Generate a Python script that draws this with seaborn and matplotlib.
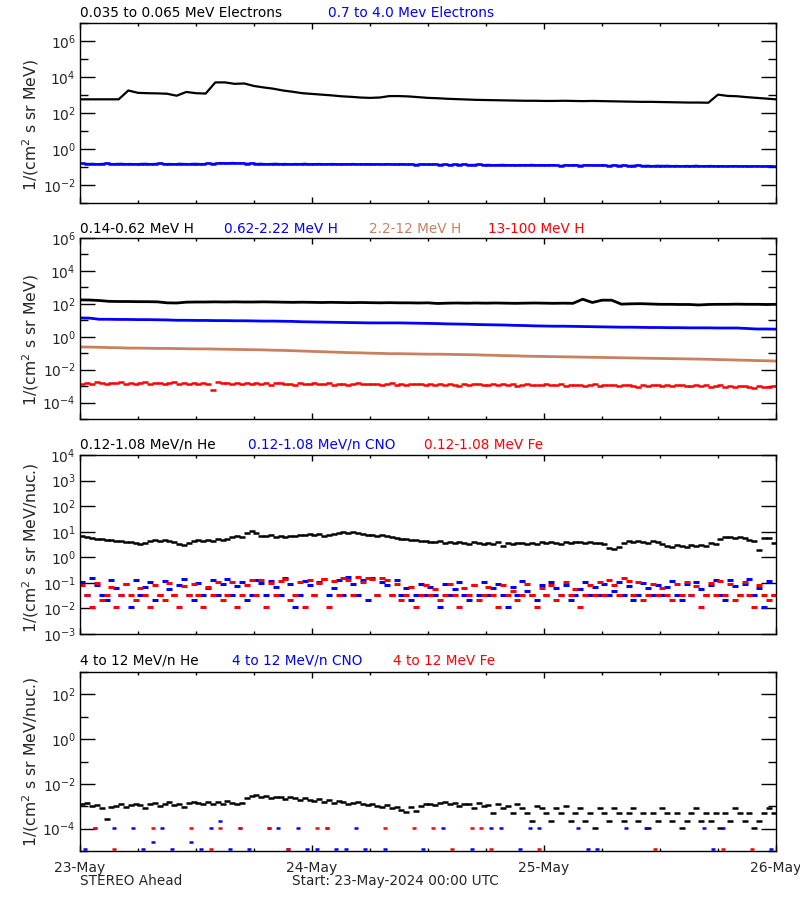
import numpy as np
import pandas as pd
import matplotlib
matplotlib.use("Agg")
import matplotlib.pyplot as plt
import matplotlib.dates as mdates
from matplotlib.ticker import FixedLocator, FuncFormatter, NullFormatter
import seaborn as sns

sns.set_style("ticks")
plt.rcParams['font.family'] = ['DejaVu Sans']
plt.rcParams['mathtext.default'] = 'regular'

# ---------------- data (log10 of flux) ----------------
START = "2024-05-23 00:00"

# Panel 1 : electrons (hourly, 00:00 .. 72:00)
elec_low_log10 = [
    2.76, 2.76, 2.76, 2.76, 2.76, 3.25, 3.12, 3.10, 3.09, 3.07, 2.96, 3.17,
    3.10, 3.08, 3.70, 3.70, 3.62, 3.64, 3.50, 3.42, 3.35, 3.25, 3.18, 3.10,
    3.06, 3.02, 2.98, 2.93, 2.90, 2.86, 2.84, 2.86, 2.94, 2.94, 2.92, 2.88,
    2.84, 2.82, 2.79, 2.77, 2.75, 2.73, 2.72, 2.71, 2.70, 2.69, 2.68, 2.68,
    2.67, 2.67, 2.68, 2.67, 2.66, 2.67, 2.66, 2.65, 2.64, 2.63, 2.62, 2.62,
    2.61, 2.60, 2.59, 2.58, 2.58, 2.57, 3.02, 2.95, 2.93, 2.88, 2.84, 2.80,
    2.76]
# Panel 1 : high-energy electrons (half-hourly)
elec_high_log10 = [
    -0.80, -0.82, -0.81, -0.83, -0.82, -0.80, -0.83, -0.82, -0.81, -0.83, -0.82, -0.84,
    -0.82, -0.81, -0.83, -0.82, -0.80, -0.83, -0.82, -0.84, -0.81, -0.82, -0.83, -0.81,
    -0.82, -0.83, -0.80, -0.82, -0.79, -0.77, -0.80, -0.76, -0.79, -0.78, -0.81, -0.80,
    -0.82, -0.81, -0.83, -0.82, -0.81, -0.83, -0.82, -0.84, -0.82, -0.83, -0.81, -0.84,
    -0.83, -0.82, -0.84, -0.83, -0.82, -0.85, -0.83, -0.84, -0.82, -0.85, -0.84, -0.83,
    -0.85, -0.84, -0.86, -0.83, -0.85, -0.86, -0.84, -0.86, -0.85, -0.87, -0.85, -0.86,
    -0.86, -0.85, -0.87, -0.86, -0.88, -0.86, -0.87, -0.85, -0.88, -0.87, -0.86, -0.88,
    -0.87, -0.89, -0.88, -0.87, -0.89, -0.88, -0.90, -0.88, -0.89, -0.87, -0.90, -0.89,
    -0.89, -0.88, -0.90, -0.93, -0.89, -0.91, -0.88, -0.92, -0.90, -0.89, -0.91, -0.90,
    -0.91, -0.93, -0.90, -0.92, -0.91, -0.93, -0.92, -0.90, -0.93, -0.92, -0.94, -0.92,
    -0.93, -0.92, -0.94, -0.93, -0.95, -0.93, -0.94, -0.92, -0.95, -0.94, -0.93, -0.95,
    -0.94, -0.96, -0.95, -0.94, -0.96, -0.95, -0.97, -0.95, -0.96, -0.97, -0.95, -0.96]

# Panel 2 : protons (hourly)
h_014_062_log10 = [
    2.24, 2.23, 2.20, 2.15, 2.14, 2.14, 2.13, 2.13, 2.12, 2.06, 2.05, 2.10,
    2.11, 2.11, 2.12, 2.11, 2.12, 2.11, 2.11, 2.12, 2.11, 2.10, 2.09, 2.10,
    2.09, 2.08, 2.09, 2.08, 2.07, 2.08, 2.07, 2.06, 2.07, 2.06, 2.06, 2.05,
    2.06, 2.02, 2.04, 2.05, 2.04, 2.05, 2.04, 2.05, 2.04, 2.03, 2.04, 2.05,
    2.04, 2.03, 2.04, 2.03, 2.28, 2.08, 2.22, 2.22, 1.98, 2.00, 2.01, 1.99,
    1.97, 1.97, 1.96, 1.96, 1.93, 1.96, 1.97, 1.97, 1.98, 1.97, 1.97, 1.96,
    1.97]
h_062_222_log10 = [
    1.14, 1.13, 1.06, 1.06, 1.05, 1.05, 1.04, 1.04, 1.03, 1.02, 1.00, 1.00,
    0.99, 0.99, 0.98, 0.98, 0.97, 0.97, 0.96, 0.95, 0.95, 0.94, 0.93, 0.91,
    0.90, 0.89, 0.88, 0.87, 0.86, 0.85, 0.84, 0.84, 0.84, 0.84, 0.83, 0.82,
    0.81, 0.80, 0.78, 0.77, 0.76, 0.74, 0.73, 0.72, 0.71, 0.69, 0.68, 0.66,
    0.65, 0.64, 0.64, 0.63, 0.62, 0.61, 0.60, 0.59, 0.58, 0.58, 0.57, 0.56,
    0.56, 0.55, 0.55, 0.54, 0.54, 0.54, 0.53, 0.53, 0.53, 0.50, 0.47, 0.47,
    0.46]
h_22_12_log10 = [
    -0.62, -0.63, -0.64, -0.66, -0.67, -0.69, -0.69, -0.70, -0.71, -0.71, -0.72, -0.73,
    -0.74, -0.74, -0.75, -0.76, -0.77, -0.78, -0.79, -0.80, -0.82, -0.83, -0.85, -0.87,
    -0.89, -0.91, -0.93, -0.95, -0.97, -0.98, -1.00, -1.01, -1.03, -1.03, -1.04, -1.05,
    -1.06, -1.06, -1.07, -1.08, -1.09, -1.10, -1.12, -1.13, -1.15, -1.16, -1.18, -1.19,
    -1.20, -1.21, -1.22, -1.23, -1.24, -1.25, -1.26, -1.27, -1.28, -1.29, -1.30, -1.31,
    -1.32, -1.33, -1.34, -1.35, -1.36, -1.37, -1.39, -1.40, -1.42, -1.43, -1.45, -1.46,
    -1.48]
# half-hourly
h_13_100_log10 = [
    -2.90, -2.80, -2.85, -2.78, -2.83, -2.88, -2.79, -2.84, -2.76, -2.86, -2.81, -2.89,
    -2.83, -2.77, -2.87, -2.82, -2.79, -2.90, -2.84, -2.78, -2.86, -2.81, -2.88, -2.80,
    -2.85, -2.79, -2.89, -3.25, -2.76, -2.84, -2.82, -2.90, -2.80, -2.86, -2.83, -2.88,
    -2.81, -2.87, -2.84, -2.92, -2.83, -2.79, -2.88, -2.85, -2.91, -2.82, -2.86, -2.89,
    -2.84, -2.90, -2.86, -2.81, -2.93, -2.87, -2.85, -2.92, -2.88, -2.83, -2.90, -2.86,
    -2.89, -2.85, -2.94, -2.88, -2.84, -2.91, -2.87, -2.95, -2.86, -2.90, -2.88, -2.93,
    -2.87, -2.92, -2.89, -2.96, -2.86, -2.91, -3.02, -2.88, -2.93, -2.90, -2.87, -2.95,
    -2.91, -2.88, -2.96, -2.90, -2.93, -2.89, -2.97, -2.92, -2.88, -2.95, -2.91, -2.94,
    -2.90, -2.96, -2.92, -2.89, -3.00, -2.93, -2.95, -2.91, -2.97, -2.94, -2.90, -2.98,
    -2.93, -2.96, -2.92, -2.99, -2.94, -2.91, -2.97, -3.05, -2.93, -2.98, -2.95, -2.92,
    -2.98, -2.94, -3.00, -2.96, -2.93, -3.01, -2.97, -2.95, -3.02, -2.96, -3.06, -2.99,
    -2.96, -3.03, -2.98, -3.08, -3.00, -2.97, -3.05, -3.10, -3.01, -3.04, -3.08, -3.02]

# Panel 3 : low-energy ions (half-hourly)
he_low_log10 = [
    0.82, 0.78, 0.74, 0.70, 0.72, 0.66, 0.68, 0.62, 0.64, 0.58, 0.60, 0.55,
    0.50, 0.56, 0.62, 0.66, 0.63, 0.68, 0.64, 0.60, 0.52, 0.48, 0.55, 0.62,
    0.66, 0.62, 0.68, 0.64, 0.70, 0.67, 0.72, 0.78, 0.82, 0.80, 0.96, 1.02,
    0.95, 0.84, 0.82, 0.86, 0.80, 0.83, 0.79, 0.85, 0.82, 0.88, 0.86, 0.90,
    0.87, 0.90, 0.85, 0.88, 0.92, 0.95, 0.97, 0.94, 0.99, 0.96, 0.92, 0.88,
    0.86, 0.84, 0.88, 0.83, 0.80, 0.76, 0.72, 0.70, 0.66, 0.68, 0.62, 0.64,
    0.60, 0.58, 0.62, 0.56, 0.59, 0.55, 0.60, 0.57, 0.53, 0.58, 0.55, 0.50,
    0.56, 0.53, 0.58, 0.46, 0.55, 0.52, 0.57, 0.54, 0.50, 0.56, 0.53, 0.58,
    0.55, 0.60, 0.57, 0.53, 0.59, 0.56, 0.61, 0.58, 0.54, 0.60, 0.57, 0.56,
    0.50, 0.38, 0.34, 0.40, 0.56, 0.62, 0.58, 0.64, 0.60, 0.56, 0.62, 0.58,
    0.52, 0.46, 0.42, 0.48, 0.44, 0.40, 0.47, 0.43, 0.49, 0.45, 0.55, 0.52,
    0.72, 0.78, 0.80, 0.76, 0.80, 0.74, 0.66, 0.62, 0.30, 0.76, 0.74, 0.56]
cno_low_log10 = [
    -0.95, -1.46, -0.82, -1.10, -1.46, -1.66, -0.90, -1.20, -1.46, -1.05, -1.96, -0.88,
    -1.46, -1.15, -0.98, -1.66, -1.46, -0.92, -1.25, -1.46, -1.08, -0.85, -1.46, -1.66,
    -1.00, -1.46, -1.20, -0.90, -1.46, -1.05, -0.86, -1.46, -1.12, -0.95, -1.66, -1.46,
    -0.88, -1.02, -1.46, -0.93, -1.15, -1.46, -0.80, -1.05, -1.96, -1.46, -0.92, -1.10,
    -1.46, -0.98, -0.85, -1.46, -1.20, -0.90, -1.46, -0.78, -1.05, -1.46, -0.88, -1.66,
    -0.82, -1.46, -0.95, -1.10, -1.46, -0.90, -1.46, -1.20, -1.66, -1.46, -1.05, -1.46,
    -1.15, -1.46, -1.96, -1.05, -1.46, -1.25, -0.98, -1.46, -1.66, -1.10, -1.46, -0.95,
    -1.46, -1.20, -1.05, -1.46, -1.96, -1.15, -1.46, -0.92, -1.30, -1.46, -1.66, -1.08,
    -1.46, -0.98, -1.20, -1.46, -1.10, -1.66, -1.46, -1.25, -0.95, -1.46, -1.15, -1.46,
    -1.05, -1.46, -1.30, -0.95, -1.46, -1.12, -1.66, -1.46, -1.00, -1.20, -1.46, -1.08,
    -1.46, -1.18, -0.92, -1.46, -1.66, -1.05, -1.46, -0.96, -1.25, -1.46, -1.10, -0.88,
    -1.46, -1.66, -0.90, -1.12, -1.46, -1.05, -0.85, -1.46, -1.20, -1.96, -0.92, -1.46]
fe_low_log10 = [
    -1.10, -1.46, -1.96, -1.00, -1.66, -1.46, -1.15, -1.96, -1.46, -1.05, -1.46, -1.66,
    -1.20, -1.46, -1.96, -1.10, -1.46, -1.66, -1.00, -1.46, -1.96, -1.12, -1.46, -1.05,
    -1.46, -1.96, -1.15, -1.46, -0.98, -1.66, -1.46, -0.95, -1.96, -1.46, -1.08, -0.90,
    -1.46, -0.88, -1.96, -1.00, -1.46, -0.92, -0.85, -1.66, -1.46, -0.95, -1.96, -0.88,
    -1.46, -1.02, -0.85, -1.96, -0.92, -1.46, -0.80, -0.88, -1.46, -0.78, -0.95, -0.82,
    -0.86, -1.46, -0.80, -0.90, -1.46, -1.05, -1.66, -1.46, -1.15, -1.96, -1.46, -1.10,
    -1.46, -1.25, -1.66, -1.46, -1.05, -1.46, -1.96, -1.20, -1.46, -1.10, -1.66, -1.46,
    -1.15, -1.46, -1.96, -1.08, -1.46, -1.30, -1.66, -1.46, -1.05, -1.46, -1.96, -1.20,
    -1.46, -1.10, -1.66, -1.46, -0.95, -1.46, -1.25, -1.96, -1.46, -1.10, -1.46, -0.98,
    -1.46, -0.88, -1.10, -1.46, -0.80, -0.92, -1.46, -0.95, -1.66, -1.46, -1.05, -1.46,
    -1.20, -1.46, -1.66, -1.05, -1.46, -0.95, -1.46, -1.12, -1.96, -1.46, -1.00, -1.46,
    -0.92, -1.46, -1.05, -1.66, -1.46, -0.98, -1.46, -1.96, -1.10, -1.46, -1.66, -1.46]

# Panel 4 : high-energy ions
he_high_log10 = [
    -2.92, -2.85, -3.00, -2.95, -3.10, -3.55, -3.05, -2.98, -2.90, -3.02, -2.95, -2.88,
    -2.95, -3.10, -2.90, -2.85, -3.00, -2.92, -2.82, -2.96, -2.88, -3.05, -2.86, -2.80,
    -2.85, -2.92, -2.80, -2.88, -2.83, -2.90, -2.78, -2.86, -2.90, -2.84, -2.62, -2.55,
    -2.50, -2.58, -2.55, -2.62, -2.57, -2.60, -2.66, -2.58, -2.64, -2.70, -2.65, -2.72,
    -2.75, -2.68, -2.80, -2.74, -2.85, -2.78, -2.82, -2.90, -2.84, -2.80, -2.88, -2.95,
    -2.92, -2.98, -3.05, -2.95, -3.10, -3.02, -3.15, -3.25, -3.05, -3.20, -3.00, -2.92,
    -2.88, -2.95, -2.86, -2.82, -2.90, -2.85, -3.01, -2.88, -2.92, -3.10, -2.86, -3.01,
    -2.95, -3.31, -2.90, -3.10, -3.01, -3.31, -2.88, -3.10, -3.31, -3.68, -3.01, -3.10,
    -3.31, -3.68, -3.10, -3.31, -3.01, -3.68, -3.31, -3.10, -3.68, -3.31, -3.98, -3.10,
    -3.31, -3.68, -3.10, -3.31, -3.68, -3.31, -3.10, -3.68, -3.31, -3.98, -3.31, -3.68,
    -3.10, -3.31, -3.68, -3.31, -3.98, -3.68, -3.31, -3.10, -3.68, -3.31, -3.68, -3.31,
    -3.98, -3.31, -3.68, -3.10, -3.31, -3.68, -3.31, -3.98, -3.68, -3.31, -3.10, -3.31]
# hourly bins, None = no counts
cno_high_log10 = [
    -4.92, -3.98, None, -3.98, None, -3.98, -4.92, -4.58, -3.98, -4.92, None, -4.58,
    -4.92, -3.98, -3.68, -4.92, -3.98, -4.92, None, -3.98, -3.98, -4.92, -3.98, -4.92,
    -4.92, -3.98, -4.92, -4.92, -3.98, -4.92, None, -4.92, None, None, None, -4.92,
    None, -3.98, None, None, -4.92, None, -3.98, -3.98, None, -4.92, -3.98, -3.98,
    None, None, None, -3.98, -4.92, -4.92, None, None, -3.98, None, -3.98, None,
    None, None, None, None, -3.98, -4.92, -3.98, None, None, None, None, -4.92]
fe_high_log10 = [
    None, -3.98, None, -4.92, None, None, None, -3.98, None, None, None, -3.98,
    None, -4.92, -3.98, None, -3.98, None, None, -3.98, None, -4.92, None, None,
    -3.98, -3.98, None, None, None, None, None, -3.98, None, None, -3.98, None,
    -3.98, None, -4.92, None, -3.98, -3.98, -4.92, None, None, None, None, -4.92,
    None, None, None, None, None, None, None, None, None, None, None, -4.92,
    None, None, None, None, None, None, -4.92, None, None, -4.92, None, None]

titles = [
    [("0.035 to 0.065 MeV Electrons", "black", 80), ("0.7 to 4.0 Mev Electrons", "#0000ff", 328)],
    [("0.14-0.62 MeV H", "black", 80), ("0.62-2.22 MeV H", "#0000ff", 224),
     ("2.2-12 MeV H", "#c8805f", 369), ("13-100 MeV H", "#ff0000", 488)],
    [("0.12-1.08 MeV/n He", "black", 80), ("0.12-1.08 MeV/n CNO", "#0000ff", 248),
     ("0.12-1.08 MeV Fe", "#ff0000", 424)],
    [("4 to 12 MeV/n He", "black", 80), ("4 to 12 MeV/n CNO", "#0000ff", 232),
     ("4 to 12 MeV Fe", "#ff0000", 393)],
]
ylabels = ["1/(cm$^2$ s sr MeV)", "1/(cm$^2$ s sr MeV)",
           "1/(cm$^2$ s sr MeV/nuc.)", "1/(cm$^2$ s sr MeV/nuc.)"]

# ---------------- layout ----------------
W, H = 800, 900
fig = plt.figure(figsize=(8, 9), dpi=100)
panels_px = [(23, 203), (238, 419), (455, 634), (672, 851)]
axes = []
for top, bot in panels_px:
    ax = fig.add_axes([80 / W, 1 - bot / H, 696 / W, (bot - top) / H])
    ax.set_yscale("log")
    axes.append(ax)

t0 = pd.Timestamp(START)
t_hourly = t0 + pd.to_timedelta(np.arange(73), unit="h")
t_half = t0 + pd.to_timedelta(np.arange(144) * 30 + 15, unit="min")
t_mid = t0 + pd.to_timedelta(np.arange(72) * 60 + 30, unit="min")


def frame(times, logs):
    v = np.array([np.nan if x is None else x for x in logs], dtype=float)
    return pd.DataFrame({"time": times, "flux": 10.0 ** v}).dropna()


def line(ax, times, logs, color, lw):
    sns.lineplot(data=frame(times, logs), x="time", y="flux", ax=ax,
                 color=color, lw=lw, estimator=None)


def dashes(ax, times, logs, color, s=14, lw=1.7):
    # short horizontal dashes, like the 5-minute samples of the original plot
    sns.scatterplot(data=frame(times, logs), x="time", y="flux", ax=ax,
                    color=color, marker="_", s=s, linewidth=lw)


BLUE, RED, SIENNA = "#0000ff", "#ff0000", "#c8805f"
# panel 1
line(axes[0], t_hourly, elec_low_log10, "black", 1.6)
line(axes[0], t_half, elec_high_log10, BLUE, 1.3)
dashes(axes[0], t_half, elec_high_log10, BLUE, 14, 1.8)
# panel 2
line(axes[1], t_hourly, h_014_062_log10, "black", 2.0)
line(axes[1], t_hourly, h_062_222_log10, BLUE, 2.0)
line(axes[1], t_hourly, h_22_12_log10, SIENNA, 2.0)
dashes(axes[1], t_half, h_13_100_log10, RED, 14, 1.8)
# panel 3
dashes(axes[2], t_half, he_low_log10, "black", 14, 1.8)
dashes(axes[2], t_half, cno_low_log10, BLUE, 16, 2.2)
dashes(axes[2], t_half, fe_low_log10, RED, 16, 2.2)
# panel 4
dashes(axes[3], t_half, he_high_log10, "black", 14, 1.8)
dashes(axes[3], t_mid, cno_high_log10, BLUE, 9, 1.8)
dashes(axes[3], t_mid, fe_high_log10, RED, 9, 1.8)

ylims = [(1e-3, 1e7), (1e-5, 1e6), (1e-3, 1e4), (1e-5, 1e3)]
major_exp = [[-2, 0, 2, 4, 6], [-4, -2, 0, 2, 4, 6],
             [-3, -2, -1, 0, 1, 2, 3, 4], [-4, -2, 0, 2]]
minor_exp = [[-3, -1, 1, 3, 5, 7], [-5, -3, -1, 1, 3, 5], [], [-5, -3, -1, 1, 3]]
label_y = [0.433, 0.436, 0.48, 0.5]

fmt = FuncFormatter(lambda v, p: "10$^{%d}$" % int(round(np.log10(v))))
for i, ax in enumerate(axes):
    ax.set_ylim(*ylims[i])
    ax.set_xlim(t0, t0 + pd.Timedelta(days=3))
    ax.yaxis.set_major_locator(FixedLocator([10.0 ** k for k in major_exp[i]]))
    ax.yaxis.set_minor_locator(FixedLocator([10.0 ** k for k in minor_exp[i]]))
    ax.yaxis.set_major_formatter(fmt)
    ax.yaxis.set_minor_formatter(NullFormatter())
    ax.xaxis.set_major_locator(mdates.DayLocator())
    ax.xaxis.set_minor_locator(mdates.HourLocator(byhour=[6, 12, 18]))
    ax.xaxis.set_major_formatter(mdates.DateFormatter("%d-%b"))
    ax.tick_params(axis="both", which="both", direction="in", top=True, right=True,
                   width=1, color="black")
    ax.tick_params(axis="y", which="major", length=11, labelsize=10, pad=3)
    ax.tick_params(axis="y", which="minor", length=6)
    ax.tick_params(axis="x", which="major", length=4, labelsize=10, pad=7)
    ax.tick_params(axis="x", which="minor", length=2.5)
    for sp in ax.spines.values():
        sp.set_visible(True)
        sp.set_color("black")
        sp.set_linewidth(1)
    ax.set_xlabel("")
    ax.set_ylabel(ylabels[i], fontsize=11.3, va="center")
    ax.yaxis.set_label_coords(-(80 - 31) / 696, label_y[i])
    if i < 3:
        ax.tick_params(axis="x", labelbottom=False)
    ax.set_facecolor("white")

title_y = [13, 229, 445, 661]
for i, row in enumerate(titles):
    for text, color, x in row:
        fig.text(x / W, 1 - title_y[i] / H, text, color=color, fontsize=9.8,
                 ha="left", va="center")

fig.text(80 / W, 1 - 881 / H, "STEREO Ahead", fontsize=9.8, ha="left", va="center")
fig.text(292 / W, 1 - 881 / H, "Start: 23-May-2024 00:00 UTC", fontsize=9.8,
         ha="left", va="center")

fig.savefig("out.png", dpi=100, facecolor="white")
